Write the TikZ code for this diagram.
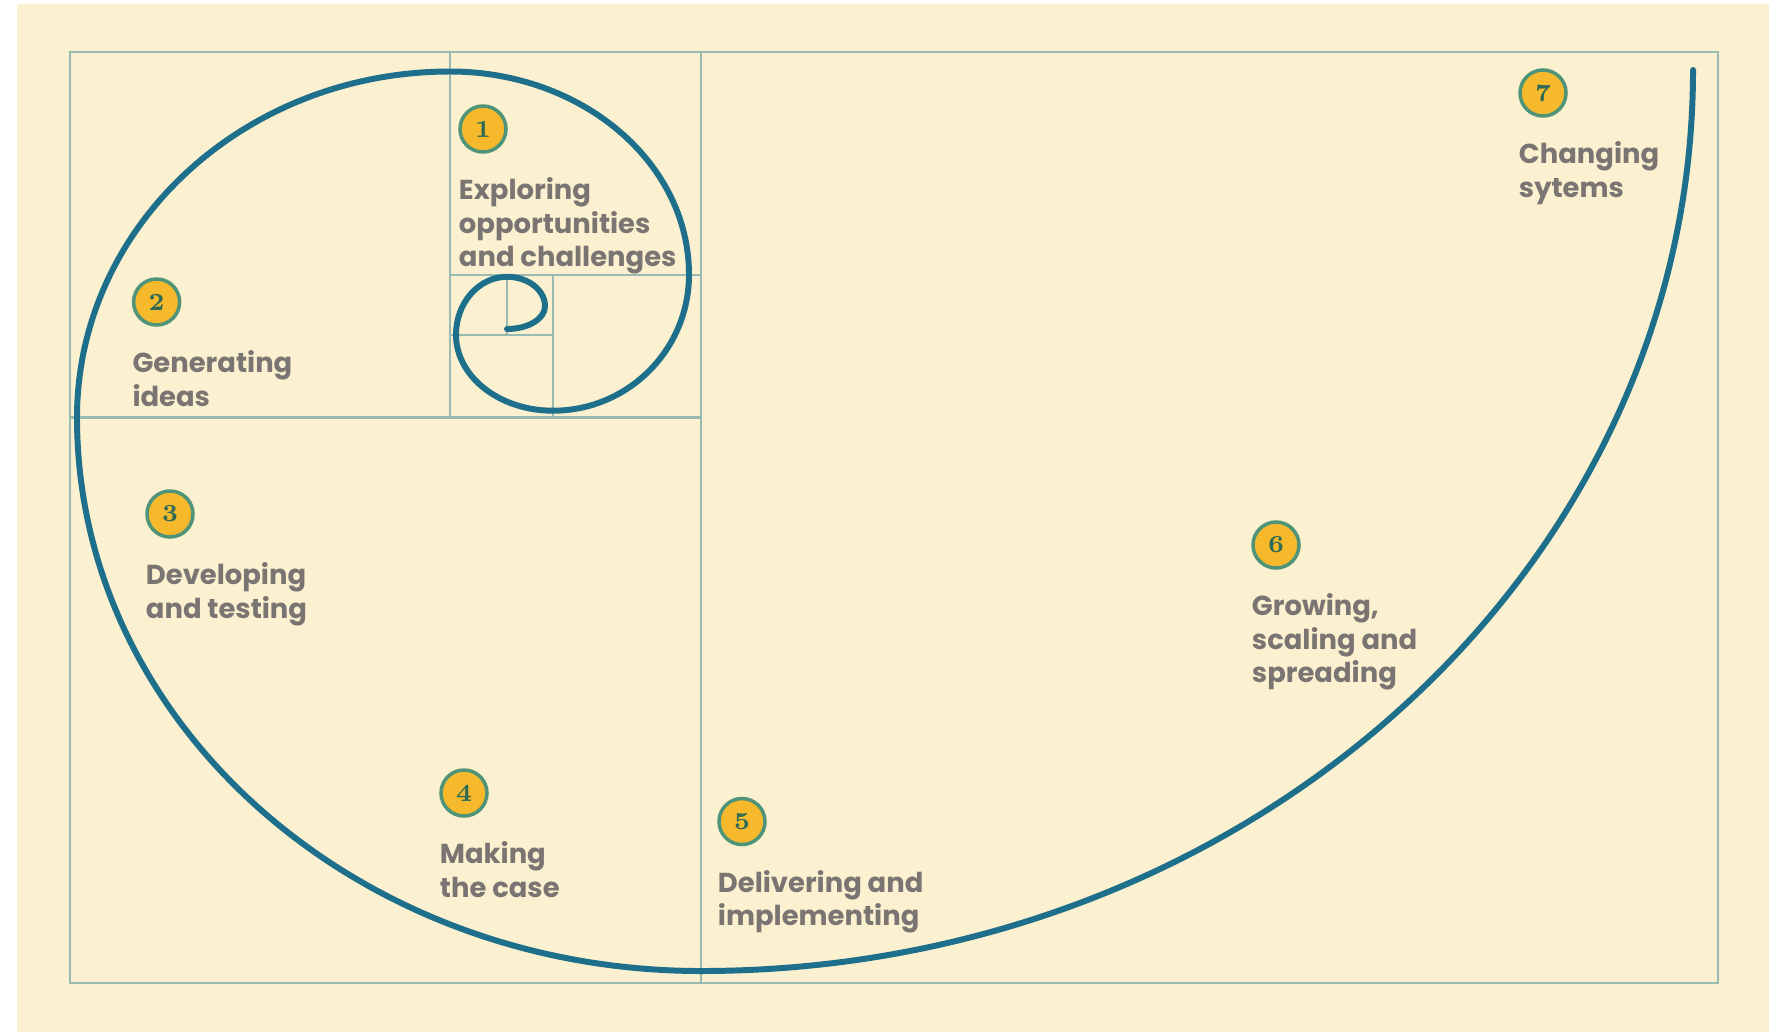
\documentclass[tikz,border=0pt]{standalone}
\usepackage{fontspec}
\usepackage{tikz}
\newfontfamily\stepfont{Poppins}
\newcommand*{\frameL}{0.70}
\newcommand*{\frameR}{17.18}
\newcommand*{\frameB}{0.49}
\newcommand*{\frameT}{9.80}
\usetikzlibrary{positioning}
\definecolor{paper}{HTML}{FBF0CF}
\definecolor{spiralblue}{HTML}{1D6F8B}
\definecolor{gridline}{HTML}{98BAB0}
\definecolor{badgefill}{HTML}{F6B92B}
\definecolor{badgering}{HTML}{4F9479}
\definecolor{badgetext}{HTML}{2E6A55}
\definecolor{labelgrey}{HTML}{7A7572}
\tikzset{
  badge/.style={% numbered yellow disc
    circle,
    draw=badgering,
    line width=1pt,
    fill=badgefill,
    minimum size=0.46cm,
    inner sep=0pt,
    text=badgetext,
    font=\bfseries\scriptsize
  },
  steplabel/.style={% grey caption under each disc
    align=left,
    inner sep=0pt,
    text=labelgrey,
    font=\stepfont\bfseries\fontsize{7.8}{9.5}\selectfont
  },
  gridrule/.style={draw=gridline, line width=0.6pt},
  spiral/.style={draw=spiralblue, line width=1.7pt, line cap=round}
}

\begin{document}
\begin{tikzpicture}
    \useasboundingbox (0,0) rectangle (17.79,10.32);
    \fill[paper] (0.17,0) rectangle (17.69,10.28);
    % golden-rectangle frame
    \draw[gridrule] (\frameL,\frameB) rectangle (\frameR,\frameT);
    \draw[gridrule] (7.01,\frameB) -- (7.01,\frameT);
    \draw[gridrule] (\frameL,6.145) -- (7.01,6.145);
    \draw[gridrule] (4.50,6.145) -- (4.50,\frameT);
    \draw[gridrule] (4.50,7.574) -- (7.01,7.574);
    \draw[gridrule] (5.53,6.145) -- (5.53,7.574);
    \draw[gridrule] (4.50,6.973) -- (5.53,6.973);
    \draw[gridrule] (5.07,6.973) -- (5.07,7.574);
    % the spiral, outside in
    \draw[spiral] (16.93,9.62)
        arc[start angle=0, end angle=-90, x radius=9.92, y radius=9.01]
        arc[start angle=270, end angle=180, x radius=6.24, y radius=5.535]
        arc[start angle=180, end angle=90, x radius=3.73, y radius=3.46]
        arc[start angle=90, end angle=0, x radius=2.39, y radius=2.031]
        arc[start angle=0, end angle=-90, x radius=1.36, y radius=1.361]
        arc[start angle=270, end angle=180, x radius=0.97, y radius=0.76]
        arc[start angle=180, end angle=90, x radius=0.51, y radius=0.579]
        arc[start angle=90, end angle=0, x radius=0.38, y radius=0.295]
        arc[start angle=0, end angle=-90, x radius=0.38, y radius=0.227];
    \foreach \i/\x/\y/\txt in {
        1/4.83/9.03/{Exploring\\opportunities\\and challenges},
        2/1.566/7.30/{Generating\\ideas},
        3/1.70/5.18/{Developing\\and testing},
        4/4.64/2.39/{Making\\the case},
        5/7.42/2.105/{Delivering and\\implementing},
        6/12.76/4.87/{Growing,\\scaling and\\spreading},
        7/15.43/9.39/{Changing\\sytems}} {
        \node[badge] (num\i) at (\x,\y) {\i};
        \node[steplabel, below right=0.48cm and 0cm of num\i.west] (txt\i) {\txt};
    }
\end{tikzpicture}
\end{document}
